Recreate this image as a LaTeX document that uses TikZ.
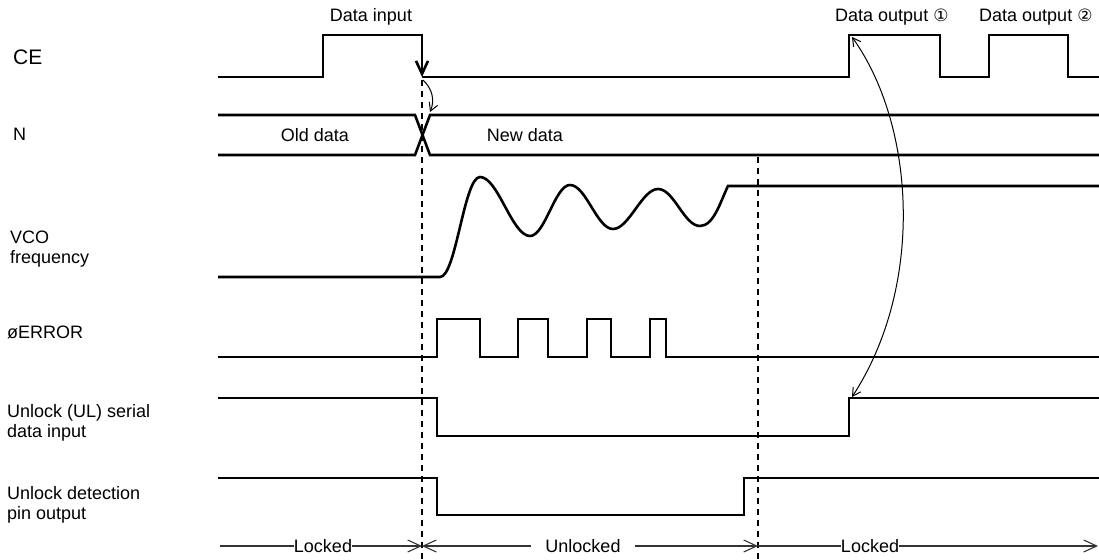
\documentclass[tikz,border=0pt]{standalone}
\usepackage{fontspec}
\setmainfont{Liberation Sans}
\newfontfamily\circfont{DejaVu Sans}
\usetikzlibrary{arrows.meta}
\tikzset{
    wave/.style={
           draw=black, line width=2.6pt,
           line join=miter,
           },
}
\tikzset{
    guide/.style={
           draw=black, line width=1.1pt,
           dash pattern=on 6pt off 5pt,
           },
}
\tikzset{
    link/.style={
           draw=black, line width=1pt,
           >={Straight Barb[length=8pt,width=9pt]},
           },
}
\tikzset{
    span/.style={
           draw=black!80, line width=1.1pt,
           >={Straight Barb[length=13pt,width=12pt]},
           },
}
\tikzset{
    signame/.style={
           anchor=west, inner sep=0pt,
           align=left,
           font=\fontsize{18}{20}\selectfont,
           },
}
\tikzset{
    tag/.style={
           inner sep=0pt,
           font=\fontsize{18}{20}\selectfont,
           },
}

\begin{document}
\begin{tikzpicture}[x=1pt,y=-1pt]
\useasboundingbox (0,0) rectangle (1099,559);
\node[signame,font=\fontsize{21}{24}\selectfont] (ce) at (13,57) {CE};
\node[signame] (n) at (13,134) {N};
\node[signame] (vco) at (10,249) {VCO\\frequency};
\node[signame] (err) at (7,332) {øERROR};
\node[signame] (ul) at (7,423) {Unlock (UL) serial\\data input};
\node[signame] (uld) at (7,505) {Unlock detection\\pin output};

\node[tag] (din) at (371,17) {Data input};
\node[tag,anchor=west] (dout1) at (835,17) {Data output {\circfont\fontsize{17}{17}\selectfont ①}};
\node[tag,anchor=west] (dout2) at (979,17) {Data output {\circfont\fontsize{17}{17}\selectfont ②}};
\node[tag] (old) at (315,135) {Old data};
\node[tag] (new) at (525,135) {New data};

\draw[wave,-{Straight Barb[length=13pt,width=12pt]}] (218,77) -| (323,35) -| (422,77);
\draw[wave] (422,77) -| (849,35) -| (940,77) -| (989,35) -| (1068,77) -- (1099,77);
\draw[wave] (218,115) -- (415,115) -- (430,155) -- (1099,155);
\draw[wave] (218,155) -- (415,155) -- (430,115) -- (1099,115);
\draw[wave] (218,277) -- (440,277)
  .. controls +(16,0) and +(-16,0) .. (480,177)
  .. controls +(18,0) and +(-18,0) .. (530,236)
  .. controls +(15,0) and +(-15,0) .. (570,185)
  .. controls +(16,0) and +(-16,0) .. (613,229)
  .. controls +(16,0) and +(-16,0) .. (658,189)
  .. controls +(16,0) and +(-16,0) .. (700,226)
  .. controls +(14,0) and +(-7,14) .. (728,186) -- (1099,186);
\draw[wave] (218,357) -| (437,319) -| (480,357) -| (518,319) -| (548,357) -| (587,319)
  -| (611,357) -| (650,319) -| (666,357) -- (1099,357);
\draw[wave] (218,398) -| (437,436) -| (849,398) -- (1099,398);
\draw[wave] (218,478) -| (437,515) -| (744,478) -- (1099,478);

\draw[guide] (422,80) -- (422,559);
\draw[guide] (758,157) -- (758,559);

\coordinate (cefall) at (423,80);
\coordinate (ncross) at (430,112);
\coordinate (ceout) at (852,37);
\coordinate (ulrise) at (852,397);
\draw[link,->] (cefall) to[bend left=35] (ncross);
\draw[link,<->] (ceout) .. controls (915,125) and (925,285) .. (ulrise);

\coordinate (lstart) at (220,546);
\coordinate (d1) at (422,546);
\coordinate (d2) at (758,546);
\coordinate (lend) at (1098,546);
\node[tag] (lock1) at (323,546) {Locked};
\node[tag,inner xsep=14pt] (unlock) at (583,546) {Unlocked};
\node[tag] (lock2) at (870,546) {Locked};
\draw[span] (lstart) -- (lock1);
\draw[span,->] (lock1) -- (d1);
\draw[span,<-] (d1) -- (unlock);
\draw[span,->] (unlock) -- (d2);
\draw[span] (d2) -- (lock2);
\draw[span,->] (lock2) -- (lend);
\end{tikzpicture}
\end{document}
